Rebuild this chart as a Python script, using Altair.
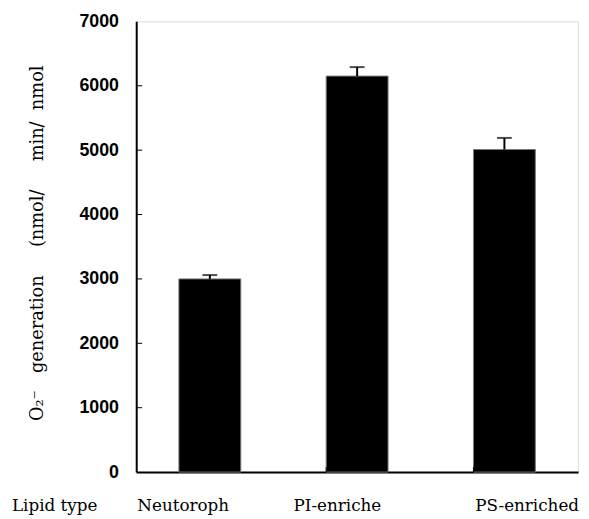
import altair as alt
import pandas as pd

categories = ["Neutoroph", "PI-enriche", "PS-enriched"]
values = [3000, 6150, 5010]
errors = [60, 140, 180]
y_ticks = [1000, 2000, 3000, 4000, 5000, 6000]
x_title = "Lipid type"

df = pd.DataFrame({"cat": categories, "val": values, "err": errors})
df["upper"] = df["val"] + df["err"]
ticks_df = pd.DataFrame({"t": y_ticks})
bounds_df = pd.DataFrame({"cat": categories[1:]})
title_df = pd.DataFrame({"label": [x_title]})

W, H = 448, 457
SERIF = "DejaVu Serif"
nb = "\u00a0"
ytitle = "O\u2082\u207b" + nb * 3 + "generation" + nb * 5 + "(nmol/" + nb * 5 + "min/" + nb * 2 + "nmol"

xscale = alt.Scale(domain=categories, paddingInner=0.58, paddingOuter=0.29)
yscale = alt.Scale(domain=[0, 7000], nice=False)

xaxis = alt.Axis(
    title=None,
    labelFont=SERIF, labelFontSize=17, labelColor="black", labelAngle=0,
    labelPadding=39, labelBaseline="alphabetic",
    labelOffset={"condition": [{"test": "datum.value === 'Neutoroph'", "value": -27},
                               {"test": "datum.value === 'PI-enriche'", "value": -20}],
                 "value": 23},
    ticks=False, domainColor="black", domainWidth=2,
)
yaxis = alt.Axis(
    title=ytitle, titleFont=SERIF, titleFontSize=18, titleFontWeight="normal", titleColor="black",
    titleAngle=270, titleX=-100, titleY=H / 2 - 4, titleBaseline="middle", titleAlign="center",
    values=[0, 1000, 2000, 3000, 4000, 5000, 6000, 7000], format="d",
    labelFont="Liberation Sans", labelFontSize=18, labelFontWeight="bold", labelColor="black",
    labelPadding=18,
    ticks=False, grid=False, domainColor="black", domainWidth=2,
)

base = alt.Chart(df)
bars = base.mark_bar(color="black", stroke="#777777", strokeWidth=1).encode(
    x=alt.X("cat:N", scale=xscale, axis=xaxis, sort=categories),
    y=alt.Y("val:Q", scale=yscale, axis=yaxis),
)
err_line = base.mark_rule(color="black", strokeWidth=2).encode(
    x=alt.X("cat:N", sort=categories), y="val:Q", y2="upper:Q"
)
caps = base.mark_tick(color="black", size=15, thickness=2).encode(
    x=alt.X("cat:N", sort=categories), y="upper:Q"
)
yt = alt.Chart(ticks_df).mark_rule(color="black", strokeWidth=1).encode(
    y="t:Q", x=alt.value(0), x2=alt.value(6)
)
xt = alt.Chart(bounds_df).mark_rule(color="black", strokeWidth=1).encode(
    x=alt.X("cat:N", sort=categories, bandPosition=0), y=alt.value(H), y2=alt.value(H - 5)
)
xtitle = alt.Chart(title_df).mark_text(
    align="left", baseline="alphabetic", color="black", font=SERIF, fontSize=17
).encode(
    text="label:N", x=alt.value(-126), y=alt.value(H + 39),
)

chart = alt.layer(bars, err_line, caps, yt, xt, xtitle).properties(
    width=W, height=H,
    autosize=alt.AutoSizeParams(type="none"),
    padding={"left": 130, "top": 10, "right": 3, "bottom": 44},
).configure_view(stroke="black", strokeWidth=2).configure_text(
    font=SERIF, fontSize=17
).configure(background="white")

chart.save("out.html", embed_options={"renderer": "svg", "actions": False})
